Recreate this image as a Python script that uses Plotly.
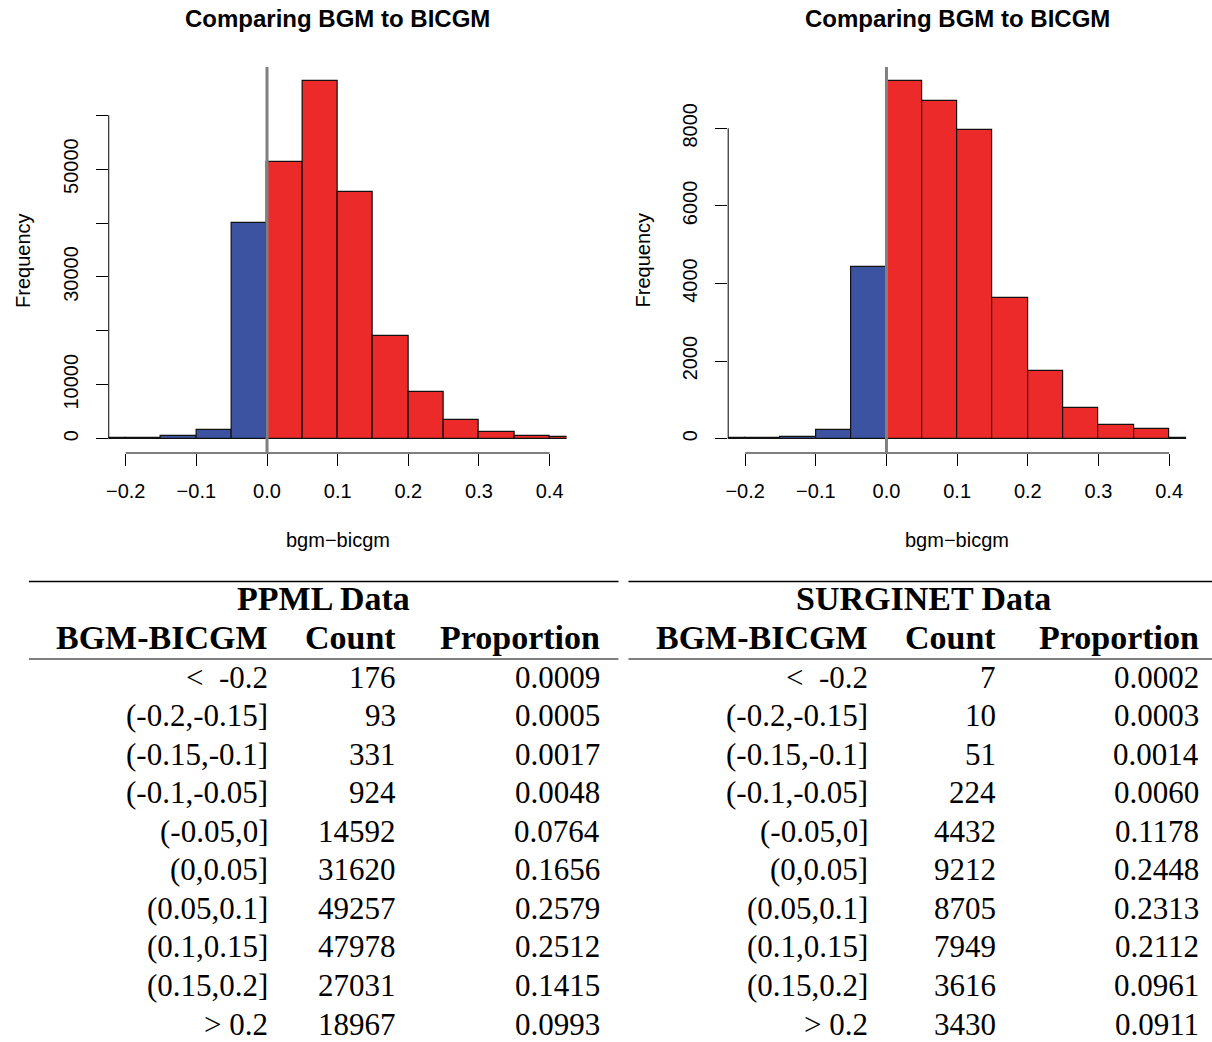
import plotly.graph_objects as go

W, H = 1212, 1042

# ---- histogram data: bins of width 0.05, labelled by their left edge ----
bin_left = [-0.25, -0.2, -0.15, -0.1, -0.05, 0.0, 0.05, 0.1, 0.15, 0.2, 0.25, 0.3, 0.35, 0.4]
bin_width = 0.05
ppml_freq = [60, 150, 430, 1550, 40000, 51250, 66300, 45750, 19000, 8600, 3450, 1300, 490, 250]
surg_freq = [7, 10, 51, 224, 4432, 9212, 8705, 7949, 3616, 1740, 785, 344, 251, 30]
split = 0.0

x_ticks = [-0.2, -0.1, 0.0, 0.1, 0.2, 0.3, 0.4]
x_tick_text = ["\u22120.2", "\u22120.1", "0.0", "0.1", "0.2", "0.3", "0.4"]
ppml_y_ticks = [0, 10000, 20000, 30000, 40000, 50000, 60000]
ppml_y_text = ["0", "10000", "", "30000", "", "50000", ""]
surg_y_ticks = [0, 2000, 4000, 6000, 8000]
surg_y_text = ["0", "2000", "4000", "6000", "8000"]

plot_title = "Comparing BGM to BICGM"
x_title = "bgm\u2212bicgm"
y_title = "Frequency"

# ---- table data ----
row_labels = ["&lt;\u00a0\u00a0-0.2", "(-0.2,-0.15]", "(-0.15,-0.1]", "(-0.1,-0.05]", "(-0.05,0]",
              "(0,0.05]", "(0.05,0.1]", "(0.1,0.15]", "(0.15,0.2]", "&gt;\u00a00.2"]
ppml_count = [176, 93, 331, 924, 14592, 31620, 49257, 47978, 27031, 18967]
ppml_prop = ["0.0009", "0.0005", "0.0017", "0.0048", "0.0764", "0.1656", "0.2579", "0.2512", "0.1415", "0.0993"]
surg_count = [7, 10, 51, 224, 4432, 9212, 8705, 7949, 3616, 3430]
surg_prop = ["0.0002", "0.0003", "0.0014", "0.0060", "0.1178", "0.2448", "0.2313", "0.2112", "0.0961", "0.0911"]
table_headers = ["BGM-BICGM", "Count", "Proportion"]

BLUE = "#3b53a1"
RED = "#ed2a2a"
SANS = "Liberation Sans"
SERIF = "Liberation Serif"


def px(x):
    return x / W


def py(y):
    return 1 - y / H


fig = go.Figure()

# plot regions in pixels: (left, right) for each panel, shared top / bottom
panels = [
    dict(freq=ppml_freq, yt=ppml_y_ticks, ytxt=ppml_y_text, left=106, right=565, ylab_x=20, sfx=""),
    dict(freq=surg_freq, yt=surg_y_ticks, ytxt=surg_y_text, left=727, right=1186, ylab_x=642, sfx="2"),
]
top_px, bot_px = 67, 453

x_pad = 0.04 * (x_ticks[-1] - x_ticks[0])
x_range = [x_ticks[0] - x_pad, x_ticks[-1] + x_pad]

shapes = []
annotations = []
for p in panels:
    centers = [b + bin_width / 2 for b in bin_left]
    colors = [BLUE if b + bin_width <= split else RED for b in bin_left]
    xa, ya = "x" + p["sfx"], "y" + p["sfx"]
    fig.add_trace(go.Bar(
        x=centers, y=p["freq"], width=bin_width,
        marker=dict(color=colors, line=dict(color="#111111", width=1.2)),
        xaxis=xa, yaxis=ya, showlegend=False, hoverinfo="x+y",
    ))
    fmax = max(p["freq"])
    axis_common = dict(showgrid=False, zeroline=False, showline=False, ticks="outside",
                       ticklen=12, tickwidth=1, tickcolor="black",
                       tickfont=dict(family=SANS, size=20, color="black"))
    fig.update_layout(**{
        "xaxis" + p["sfx"]: dict(domain=[px(p["left"]), px(p["right"])], range=x_range,
                                 tickmode="array", tickvals=x_ticks, ticktext=x_tick_text,
                                 anchor=ya, ticklabelstandoff=8, **axis_common),
        "yaxis" + p["sfx"]: dict(domain=[py(bot_px), py(top_px)],
                                 range=[-0.04 * fmax, 1.04 * fmax],
                                 tickmode="array", tickvals=p["yt"], ticktext=p["ytxt"],
                                 tickangle=-90, anchor=xa, ticklabelstandoff=10, **axis_common),
    })
    # R-style axis lines spanning only the tick range
    shapes.append(dict(type="line", xref=xa + " domain", yref=ya, x0=0, x1=0,
                       y0=p["yt"][0], y1=p["yt"][-1], line=dict(color="black", width=1)))
    shapes.append(dict(type="line", xref=xa, yref=ya + " domain", x0=x_ticks[0], x1=x_ticks[-1],
                       y0=0, y1=0, line=dict(color="black", width=1)))
    # reference line at zero difference
    shapes.append(dict(type="line", xref=xa, yref=ya + " domain", x0=split, x1=split,
                       y0=0, y1=1, line=dict(color="#808080", width=3)))
    cx = px((p["left"] + p["right"]) / 2)
    annotations.append(dict(text=plot_title, x=cx, y=py(18), xref="paper", yref="paper",
                            showarrow=False, xanchor="center", yanchor="middle",
                            font=dict(family=SANS, size=24, color="black", weight="bold")))
    annotations.append(dict(text=x_title, x=cx, y=py(540), xref="paper", yref="paper",
                            showarrow=False, xanchor="center", yanchor="middle",
                            font=dict(family=SANS, size=20, color="black")))
    annotations.append(dict(text=y_title, x=px(p["ylab_x"]), y=py((top_px + bot_px) / 2),
                            xref="paper", yref="paper", textangle=-90,
                            showarrow=False, xanchor="center", yanchor="middle",
                            font=dict(family=SANS, size=20, color="black")))

# ---- booktabs-style tables ----
tables = [
    dict(name="PPML Data", count=ppml_count, prop=ppml_prop, left=26),
    dict(name="SURGINET Data", count=surg_count, prop=surg_prop, left=627),
]
table_w = 591
col_right = [242, 370, 574]  # right edges of columns, relative to table left
title_y, header_y, row0_y, row_h = 598, 637, 677, 38.56
top_rule_y, mid_rule_y = 581.5, 659
FS, FS_BOLD = 31, 34

for t in tables:
    L = t["left"]
    shapes.append(dict(type="line", xref="paper", yref="paper", x0=px(L), x1=px(L + table_w),
                       y0=py(top_rule_y), y1=py(top_rule_y), line=dict(color="black", width=1.5)))
    shapes.append(dict(type="line", xref="paper", yref="paper", x0=px(L), x1=px(L + table_w),
                       y0=py(mid_rule_y), y1=py(mid_rule_y), line=dict(color="black", width=1.2)))
    annotations.append(dict(text=t["name"], x=px(L + table_w / 2), y=py(title_y), xref="paper",
                            yref="paper", showarrow=False, xanchor="center", yanchor="middle",
                            font=dict(family=SERIF, size=FS_BOLD, color="black", weight="bold")))
    for j, h in enumerate(table_headers):
        annotations.append(dict(text=h, x=px(L + col_right[j]), y=py(header_y), xref="paper",
                                yref="paper", showarrow=False, xanchor="right", yanchor="middle",
                                font=dict(family=SERIF, size=FS_BOLD, color="black", weight="bold")))
    for i, lab in enumerate(row_labels):
        vals = [lab, str(t["count"][i]), t["prop"][i]]
        for j, v in enumerate(vals):
            annotations.append(dict(text=v, x=px(L + col_right[j]), y=py(row0_y + i * row_h),
                                    xref="paper", yref="paper", showarrow=False,
                                    xanchor="right", yanchor="middle",
                                    font=dict(family=SERIF, size=FS, color="black")))

fig.update_layout(
    width=W, height=H, margin=dict(l=0, r=0, t=0, b=0),
    paper_bgcolor="white", plot_bgcolor="white",
    bargap=0, shapes=shapes, annotations=annotations,
)

fig.write_html("out.html")
